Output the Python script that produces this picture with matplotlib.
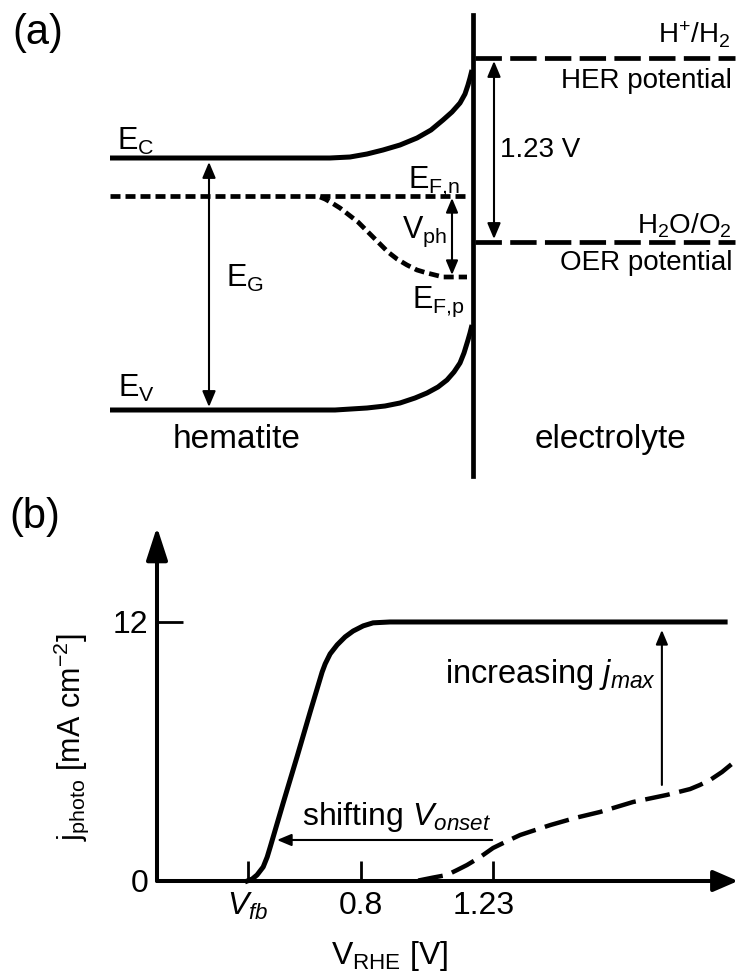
import matplotlib.pyplot as plt
import matplotlib.transforms as mtransforms

plt.rcParams['font.family'] = ['Liberation Sans', 'DejaVu Sans']
plt.rcParams['mathtext.fontset'] = 'custom'
plt.rcParams['mathtext.rm'] = 'Liberation Sans'
plt.rcParams['mathtext.it'] = 'Liberation Sans:italic'
plt.rcParams['mathtext.bf'] = 'Liberation Sans:bold'
plt.rcParams['lines.scale_dashes'] = False

# ---- panel (a): band diagram, position / energy in arbitrary units
# interface at x = 0, HER level at E = 0
ec_x = [-363, -143, -123, -106, -90, -73, -56, -42, -30, -21, -13, -8, -5, -3, -1]
ec_e = [-100, -100, -99, -96, -92, -87, -80, -72, -62, -54, -45, -36, -27, -20, -12]
ev_x = [-363, -138, -106, -88, -73, -58, -46, -35, -26, -19, -13, -9, -5, -3, -1]
ev_e = [-352, -352, -350, -348, -345, -340, -335, -329, -322, -314, -305, -295,
        -282, -275, -267]
efn_x = [-363, -6]
efn_e = [-138, -138]
efp_x = [-153, -148, -141, -133, -124, -115, -108, -100, -93, -85, -76, -66,
         -56, -46, -38, -30, -6]
efp_e = [-139, -141, -145, -150, -157, -164, -171, -179, -186, -194, -201, -207,
         -212, -215, -217, -219, -219]
electrolyte_x = [2, 262]
her_e = 0
oer_e = -184
interface_e = [43, -418]

# ---- panel (b): photocurrent vs potential
v_fb = 0.43
v_ticks = [v_fb, 0.8, 1.23]
v_tick_labels = ['$V_{fb}$', '0.8', '1.23']
j_ticks = [0, 12]
j_tick_labels = ['0', '12']
solid_v = [0.429, 0.445, 0.461, 0.481, 0.494, 0.504, 0.546, 0.592, 0.634, 0.673,
           0.683, 0.699, 0.722, 0.748, 0.774, 0.807, 0.839, 0.894, 1.986]
solid_j = [0.0, 0.09, 0.28, 0.65, 1.11, 1.58, 3.61, 5.79, 7.83, 9.68,
           10.06, 10.52, 10.94, 11.31, 11.58, 11.82, 11.96, 12.0, 12.0]
dashed_v = [0.986, 1.035, 1.080, 1.113, 1.145, 1.188, 1.230, 1.276, 1.318, 1.367,
            1.416, 1.497, 1.579, 1.686, 1.797, 1.872, 1.904, 1.937, 1.976, 2.012]
dashed_j = [0.02, 0.16, 0.28, 0.51, 0.74, 1.11, 1.53, 1.85, 2.13, 2.36,
            2.59, 2.92, 3.20, 3.66, 3.99, 4.26, 4.45, 4.68, 5.05, 5.47]

fig = plt.figure(figsize=(7.38, 9.76), dpi=100)


def arrow(ax, start, end, style='-|>', hl=0.86, hw=0.36, lw=1.5):
    ax.annotate('', xy=end, xytext=start, annotation_clip=False,
                arrowprops=dict(arrowstyle=f'{style},head_length={hl},head_width={hw}',
                                mutation_scale=10, lw=lw, color='black',
                                shrinkA=0, shrinkB=0))


# ================= (a) =================
ax = fig.add_axes([0, 0.5, 1, 0.5])
ax.set_xlim(-473, 265)
ax.set_ylim(-430, 58)
ax.axis('off')

ax.plot(ec_x, ec_e, color='black', lw=3.6, solid_capstyle='butt')
ax.plot(ev_x, ev_e, color='black', lw=3.6, solid_capstyle='butt')
ax.plot(efn_x, efn_e, color='black', lw=3.4, dashes=(7.2, 3.6))
ax.plot(efp_x, efp_e, color='black', lw=3.4, dashes=(7.2, 3.6))
ax.plot(electrolyte_x, [her_e, her_e], color='black', lw=3.4, dashes=(19, 6))
ax.plot(electrolyte_x, [oer_e, oer_e], color='black', lw=3.4, dashes=(19, 6))
ax.plot([0, 0], interface_e, color='black', lw=3.4)

arrow(ax, (-264, -104), (-264, -349), style='<|-|>', hl=0.95, hw=0.4)
arrow(ax, (-21, -140), (-21, -217), style='<|-|>')
arrow(ax, (21, -3), (21, -181), style='<|-|>', hl=0.95, hw=0.4)

lab = dict(fontsize=22, va='baseline')
ax.text(-356, -92, r'E$_\mathrm{C}$', ha='left', **lab)
ax.text(-355, -339, r'E$_\mathrm{V}$', ha='left', **lab)
ax.text(-247, -229, r'E$_\mathrm{G}$', ha='left', **lab)
ax.text(-65, -130, r'E$_\mathrm{F{,}n}$', ha='left', **lab)
ax.text(-71, -180, r'V$_\mathrm{ph}$', ha='left', **lab)
ax.text(-61, -250, r'E$_\mathrm{F{,}p}$', ha='left', **lab)

ax.text(257, 15, r'H$^{+}$/H$_{2}$', ha='right', va='baseline', fontsize=20)
ax.text(259, -30, 'HER potential', ha='right', va='baseline', fontsize=20)
ax.text(27, -99, '1.23 V', ha='left', va='baseline', fontsize=20)
ax.text(259, -175, r'H$_{2}$O/O$_{2}$', ha='right', va='baseline', fontsize=20)
ax.text(259, -212, 'OER potential', ha='right', va='baseline', fontsize=20)
ax.text(-236, -390, 'hematite', ha='center', va='baseline', fontsize=24)
ax.text(137, -390, 'electrolyte', ha='center', va='baseline', fontsize=24)

fig.text(12 / 738, 1 - 44 / 976, '(a)', fontsize=30, ha='left', va='baseline')
fig.text(9 / 738, 1 - 528 / 976, '(b)', fontsize=30, ha='left', va='baseline')

# ================= (b) =================
bx = fig.add_axes([157 / 738, 95 / 976, 581 / 738, 354 / 976])
bx.set_xlim(0.135, 2.028)
bx.set_ylim(0, 16.4)
for s in bx.spines.values():
    s.set_visible(False)

bx.plot(solid_v, solid_j, color='black', lw=3.6, clip_on=False,
        solid_joinstyle='round')
bx.plot(dashed_v, dashed_j, color='black', lw=3.2, dashes=(18, 7), clip_on=False)

# axis arrows
arrow(bx, (0.135, 0), (2.028, 0), hl=1.5, hw=0.65, lw=2.9)
arrow(bx, (0.135, 0), (0.135, 16.4), hl=2.0, hw=0.65, lw=2.9)

bx.set_xticks(v_ticks, v_tick_labels)
bx.set_yticks(j_ticks, j_tick_labels)
bx.tick_params(axis='x', direction='in', length=14.4, width=2, pad=7, labelsize=23)
bx.tick_params(axis='y', direction='in', length=18.7, width=2, pad=6, labelsize=23)
# the 1.23 label sits a little left of its tick in the original
lbl = bx.get_xticklabels()[2]
lbl.set_transform(lbl.get_transform() +
                  mtransforms.ScaledTranslation(-0.09, 0, fig.dpi_scale_trans))

bx.set_xlabel(r'V$_\mathrm{RHE}$ [V]', fontsize=23)
bx.xaxis.set_label_coords(0.401, -0.164)
bx.set_ylabel(r'j$_\mathrm{photo}$ [mA cm$^{-2}$]', fontsize=22)
bx.yaxis.set_label_coords(-0.1136, 0.407)

arrow(bx, (1.227, 1.9), (0.526, 1.9))
arrow(bx, (1.780, 4.45), (1.780, 11.63))
bx.text(1.074, 9.18, 'increasing $j_{max}$', fontsize=23.5, ha='left', va='baseline')
bx.text(0.608, 2.59, 'shifting $V_{onset}$', fontsize=23, ha='left', va='baseline')

fig.savefig('out.png', dpi=100)
